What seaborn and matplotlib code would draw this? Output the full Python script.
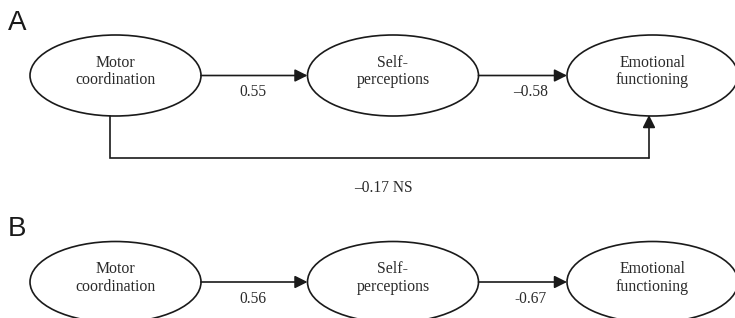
import matplotlib
matplotlib.use("Agg")
import matplotlib.pyplot as plt
from matplotlib.patches import Ellipse
import seaborn as sns

# Path model data
nodes = ["Motor\ncoordination", "Self-\nperceptions", "Emotional\nfunctioning"]
panels = ["A", "B"]
coef_a = ["0.55", "\u20130.58"]
direct_a = "\u20130.17 NS"
coef_b = ["0.56", "-0.67"]

# Layout (pixel coordinates)
node_x = [115.5, 393, 652.5]
row_y = [75.5, 282]
ell_w, ell_h = 171, 81
ink = "#1a1a1a"

sns.set_theme(style="white")
plt.rcParams["font.family"] = ["Liberation Serif", "DejaVu Serif"]

fig = plt.figure(figsize=(7.35, 3.18), dpi=100)
ax = fig.add_axes([0, 0, 1, 1])
ax.set_xlim(0, 735)
ax.set_ylim(318, 0)
ax.axis("off")

arrow = dict(arrowstyle="-|>", color=ink, lw=1.2, mutation_scale=19,
             shrinkA=0, shrinkB=0)


def draw_row(cy, labels):
    for cx, name in zip(node_x, nodes):
        ax.add_patch(Ellipse((cx, cy), ell_w, ell_h, fill=False, ec=ink, lw=1.2))
        ax.text(cx, cy - 4, name, ha="center", va="center", fontsize=11.4,
                color="#2a2a2a", linespacing=1.15)
    for i, lab in enumerate(labels):
        x0 = node_x[i] + ell_w / 2
        x1 = node_x[i + 1] - ell_w / 2
        ax.annotate("", xy=(x1, cy), xytext=(x0, cy), arrowprops=arrow)
        ax.text(x0 + 52, cy + 17, lab, ha="center", va="center",
                fontsize=11.2, color="#2a2a2a")


draw_row(row_y[0], coef_a)
draw_row(row_y[1], coef_b)

# direct path in panel A
bottom = row_y[0] + ell_h / 2
ax.plot([110, 110, 649], [bottom, 158, 158], color=ink, lw=1.2,
        solid_joinstyle="miter")
ax.annotate("", xy=(649, bottom - 1), xytext=(649, 158), arrowprops=arrow)
ax.text(383, 188, direct_a, ha="center", va="center", fontsize=11.2,
        color="#2a2a2a")

# panel letters
for lab, y in zip(panels, [23, 229]):
    ax.text(8, y, lab, ha="left", va="center", fontsize=20,
            family="Liberation Sans", color=ink)

fig.savefig("out.png", dpi=100)
